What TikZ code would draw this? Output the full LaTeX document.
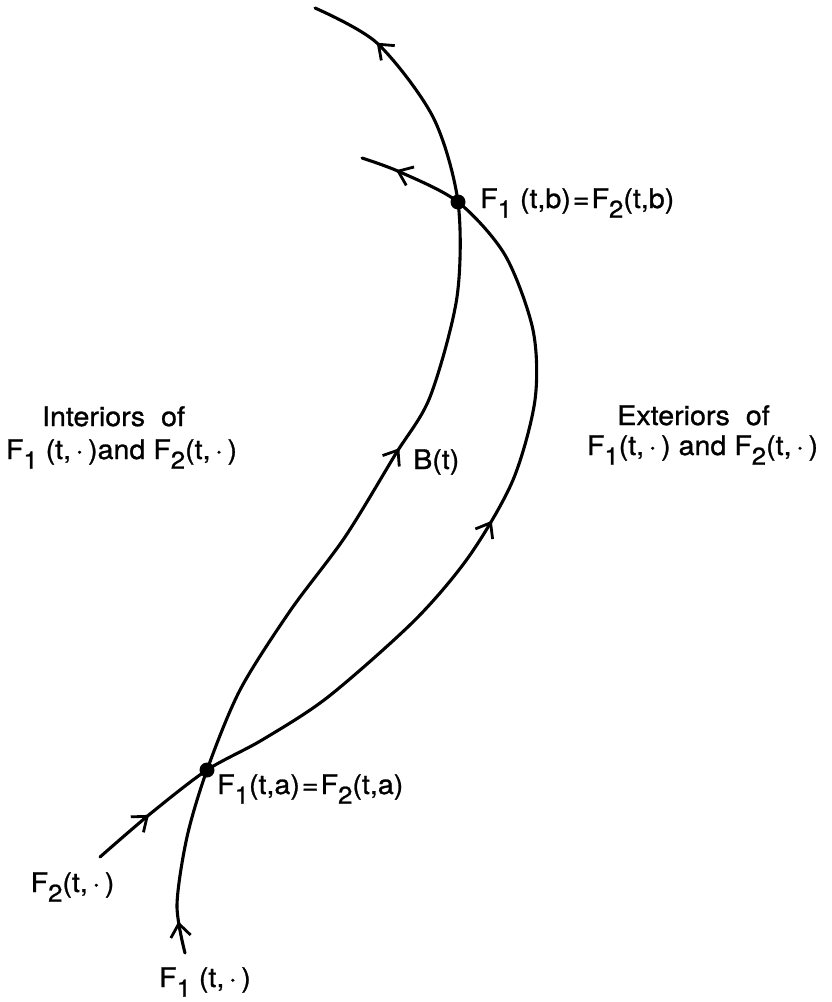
\documentclass[tikz,border=0pt]{standalone}
\usepackage{fontspec}
\usepackage{graphicx}
\setmainfont{TeX Gyre Heros}[FakeStretch=1.06,FakeBold=1]
\usetikzlibrary{arrows.meta,decorations.markings}
\newcommand\lsub[1]{\raisebox{-0.36em}{\scalebox{0.9}{#1}}}
\newcommand\cdt{\,·\,}
\tikzset{
  curve/.style={line width=3.1pt, line cap=round, line join=round},
  barb/.tip={Straight Barb[length=13pt,width=20pt,line width=2.8pt]},
  lbl/.style={inner sep=0pt, font=\fontsize{27}{33}\selectfont},
  pt/.style={circle, fill=black, inner sep=0pt, minimum size=15pt},
}
\begin{document}
\begin{tikzpicture}[x=1pt,y=-1pt]
\useasboundingbox (0,0) rectangle (832,1002);
\coordinate (a) at (207,770);
\coordinate (b) at (458,202);
% F1 curve (B(t))
\draw[curve, postaction={decorate}, decoration={markings,
   mark=at position 0.030 with {\arrow{barb}},
   mark=at position 0.524 with {\arrow{barb}},
   mark=at position 0.934 with {\arrow{barb}}}]
  plot[smooth] coordinates {(185,953) (177,905) (187,837) (a) (240,690) (290,611) (345,537) (395,455) (430,397) (457,297) (b) (433,117) (377,43) (315,8)};
% F2 curve
\draw[curve, postaction={decorate}, decoration={markings,
   mark=at position 0.066 with {\arrow{barb}},
   mark=at position 0.533 with {\arrow{barb}},
   mark=at position 0.963 with {\arrow{barb}}}]
  plot[smooth] coordinates {(100,857) (150,814) (a) (262,740) (328,697) (415,620) (470,555) (513,480) (535,400) (533,330) (505,255) (b) (400,172) (362,158)};
\node[pt] (pa) at (a) {};
\node[pt] (pb) at (b) {};
% labels
\node[lbl, anchor=base west] (lb) at (480,208) {F\lsub{1} (t,b)\hspace{2pt}=\hspace{2pt}F\lsub{2}(t,b)};
\node[lbl, anchor=base west] (la) at (217,794) {F\lsub{1}(t,a)\hspace{2pt}=\hspace{2pt}F\lsub{2}(t,a)};
\node[lbl, anchor=base west] (bt) at (413,469) {B(t)};
\node[lbl, anchor=base] (in1) at (113.5,426) {Interiors\ \ of};
\node[lbl, anchor=base] (in2) at (121.5,459) {F\lsub{1} (t,\cdt)and F\lsub{2}(t,\cdt)};
\node[lbl, anchor=base] (ex1) at (693.5,425) {Exteriors\ \ of};
\node[lbl, anchor=base] (ex2) at (702.5,455) {F\lsub{1}(t,\cdt) and F\lsub{2}(t,\cdt)};
\node[lbl, anchor=base] (f2) at (72.5,892) {F\lsub{2}(t,\cdt)};
\node[lbl, anchor=base] (f1) at (205,987) {F\lsub{1} (t,\cdt)};
\end{tikzpicture}
\end{document}
